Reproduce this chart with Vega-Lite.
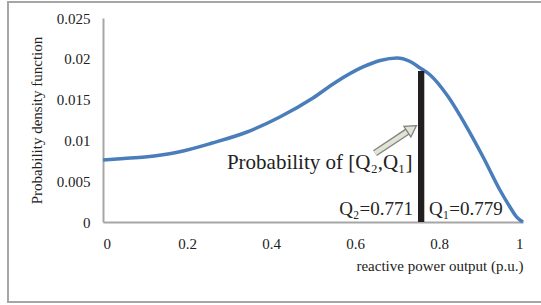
{
  "$schema": "https://vega.github.io/schema/vega-lite/v6.json",
  "width": 420,
  "height": 204,
  "autosize": {"type": "none"},
  "padding": {"left": 103, "top": 18, "right": 18, "bottom": 83},
  "background": "white",
  "config": {"view": {"stroke": null}, "font": "Liberation Serif"},
  "datasets": {
    "curve": [
      {"q": 0, "pdf": 0.0076},
      {"q": 0.05, "pdf": 0.00778},
      {"q": 0.1, "pdf": 0.00797},
      {"q": 0.18, "pdf": 0.00858},
      {"q": 0.26, "pdf": 0.00968},
      {"q": 0.343, "pdf": 0.01103},
      {"q": 0.421, "pdf": 0.01287},
      {"q": 0.5, "pdf": 0.0152},
      {"q": 0.555, "pdf": 0.01716},
      {"q": 0.619, "pdf": 0.019},
      {"q": 0.66, "pdf": 0.0198},
      {"q": 0.7, "pdf": 0.0201},
      {"q": 0.73, "pdf": 0.0197},
      {"q": 0.755, "pdf": 0.01887},
      {"q": 0.779, "pdf": 0.01801},
      {"q": 0.819, "pdf": 0.01556},
      {"q": 0.866, "pdf": 0.01164},
      {"q": 0.905, "pdf": 0.00797},
      {"q": 0.945, "pdf": 0.00392},
      {"q": 0.969, "pdf": 0.00184},
      {"q": 0.985, "pdf": 0.0006},
      {"q": 1.0, "pdf": 0}
    ],
    "bar": [{"q1": 0.75, "q2": 0.765, "p1": 0, "p2": 0.0185}],
    "arrow": [{"q1": 0.6476, "p1": 0.00845, "q2": 0.725, "p2": 0.01109}],
    "head": [{"q": 0.7355, "p": 0.01144}],
    "leftText": [
      {"q": 0.295, "p": 0.0065, "label": "Probability of [Q₂,Q₁]", "size": 21},
      {"q": 0.776, "p": 0.00086, "label": "Q₁=0.779", "size": 19}
    ],
    "rightText": [
      {"q": 0.738, "p": 0.00086, "label": "Q₂=0.771", "size": 19}
    ]
  },
  "layer": [
    {
      "data": {"values": [{}]},
      "mark": {"type": "rect", "fill": null, "stroke": "#a6a6a6", "strokeWidth": 2, "clip": false},
      "encoding": {
        "x": {"datum": -0.2262, "type": "quantitative", "scale": {"domain": [0, 1], "nice": false, "zero": false}},
        "x2": {"datum": 1.06},
        "y": {"datum": 0.02696, "type": "quantitative", "scale": {"domain": [0, 0.025], "nice": false, "zero": false}},
        "y2": {"datum": -0.0098}
      }
    },
    {
      "data": {"name": "curve"},
      "mark": {"type": "line", "color": "#4a7ebb", "strokeWidth": 3.5, "interpolate": "monotone"},
      "encoding": {
        "x": {
          "field": "q", "type": "quantitative",
          "scale": {"domain": [0, 1], "nice": false, "zero": false},
          "axis": {
            "values": [0, 0.2, 0.4, 0.6, 0.8, 1], "format": "~g", "grid": false, "ticks": false,
            "domainColor": "#a6a6a6", "domainWidth": 2,
            "labelFont": "Liberation Serif", "labelFontSize": 15, "labelColor": "#222", "labelPadding": 14,
            "title": "reactive power output (p.u.)", "titleFont": "Liberation Serif", "titleFontSize": 15,
            "titleFontWeight": "normal", "titleColor": "#222",
            "titleX": 420, "titleY": 48, "titleAlign": "right", "titleBaseline": "alphabetic"
          }
        },
        "y": {
          "field": "pdf", "type": "quantitative",
          "scale": {"domain": [0, 0.025], "nice": false, "zero": false},
          "axis": {
            "values": [0, 0.005, 0.01, 0.015, 0.02, 0.025], "format": "~g", "grid": false, "ticks": false,
            "domainColor": "#a6a6a6", "domainWidth": 2,
            "labelFont": "Liberation Serif", "labelFontSize": 15, "labelColor": "#222", "labelPadding": 13,
            "title": "Probability density function", "titleFont": "Liberation Serif", "titleFontSize": 15,
            "titleFontWeight": "normal", "titleColor": "#222",
            "titleX": -62, "titleY": 102, "titleAngle": -90, "titleAlign": "center", "titleBaseline": "alphabetic"
          }
        }
      }
    },
    {
      "data": {"name": "bar"},
      "mark": {"type": "rect", "color": "#231f20"},
      "encoding": {
        "x": {"field": "q1", "type": "quantitative"},
        "x2": {"field": "q2"},
        "y": {"field": "p1", "type": "quantitative"},
        "y2": {"field": "p2"}
      }
    },
    {
      "data": {"name": "arrow"},
      "mark": {"type": "rule", "color": "#7f7f7f", "strokeWidth": 7, "strokeCap": "butt"},
      "encoding": {
        "x": {"field": "q1", "type": "quantitative"},
        "x2": {"field": "q2"},
        "y": {"field": "p1", "type": "quantitative"},
        "y2": {"field": "p2"}
      }
    },
    {
      "data": {"name": "arrow"},
      "mark": {"type": "rule", "color": "#dfe4d3", "strokeWidth": 4.5, "strokeCap": "butt"},
      "encoding": {
        "x": {"field": "q1", "type": "quantitative"},
        "x2": {"field": "q2"},
        "y": {"field": "p1", "type": "quantitative"},
        "y2": {"field": "p2"}
      }
    },
    {
      "data": {"name": "head"},
      "mark": {"type": "point", "shape": "triangle-up", "filled": true, "fill": "#dfe4d3", "stroke": "#7f7f7f", "strokeWidth": 1.2, "size": 160, "angle": 56.5, "opacity": 1},
      "encoding": {
        "x": {"field": "q", "type": "quantitative"},
        "y": {"field": "p", "type": "quantitative"}
      }
    },
    {
      "data": {"name": "leftText"},
      "mark": {"type": "text", "align": "left", "baseline": "alphabetic", "font": "Liberation Serif", "color": "#222"},
      "encoding": {
        "x": {"field": "q", "type": "quantitative"},
        "y": {"field": "p", "type": "quantitative"},
        "text": {"field": "label"},
        "size": {"field": "size", "type": "quantitative", "scale": null}
      }
    },
    {
      "data": {"name": "rightText"},
      "mark": {"type": "text", "align": "right", "baseline": "alphabetic", "font": "Liberation Serif", "color": "#222"},
      "encoding": {
        "x": {"field": "q", "type": "quantitative"},
        "y": {"field": "p", "type": "quantitative"},
        "text": {"field": "label"},
        "size": {"field": "size", "type": "quantitative", "scale": null}
      }
    }
  ]
}
